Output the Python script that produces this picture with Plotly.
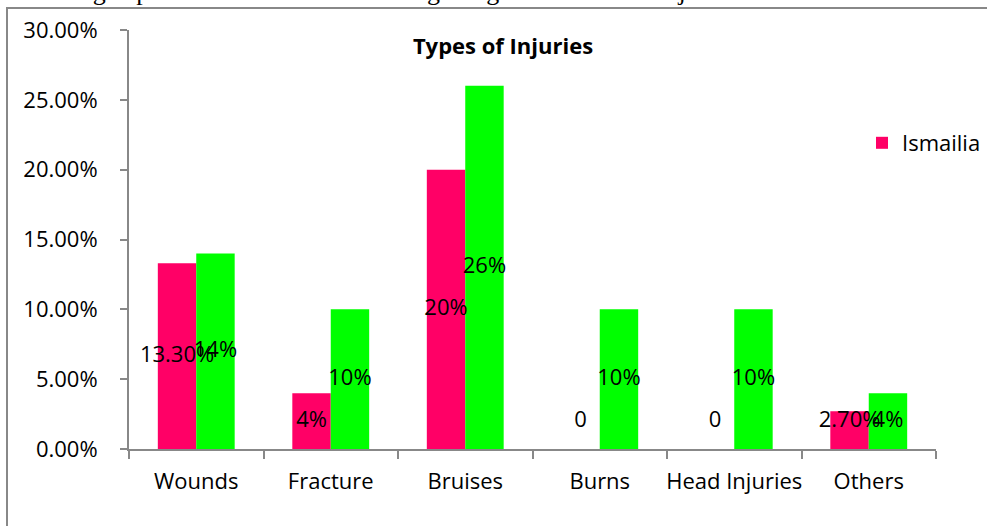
import plotly.graph_objects as go

# ---- data ----
categories = ["Wounds", "Fracture", "Bruises", "Burns", "Head Injuries", "Others"]
ismailia = [0.133, 0.04, 0.20, 0.0, 0.0, 0.027]
other_series = [0.14, 0.10, 0.26, 0.10, 0.10, 0.04]
ismailia_labels = ["13.30%", "4%", "20%", "0", "0", "2.70%"]
other_labels = ["14%", "10%", "26%", "10%", "10%", "4%"]
y_ticks = [0, 0.05, 0.10, 0.15, 0.20, 0.25, 0.30]

PINK = "#FF0066"
GREEN = "#00FF00"
GRAY = "#888888"
FONT = "Open Sans"

W, H = 987, 526
L, R, T, B = 129, 936, 30, 449  # plot area in pixels


def px_x(p):
    return (p - L) / (R - L)


def px_y(p):
    return (B - p) / (B - T)


n = len(categories)
idx = list(range(n))
bw = 1 / 3.5  # Excel gap width 150%

fig = go.Figure()
fig.add_trace(go.Bar(x=idx, y=ismailia, name="Ismailia", marker_color=PINK,
                     width=bw, offset=-bw, marker_line_width=0))
fig.add_trace(go.Bar(x=idx, y=other_series, name="Series 2", marker_color=GREEN,
                     width=bw, offset=0, marker_line_width=0, showlegend=False))

# data labels, centred in bars (raised a little above the axis for small bars)
lab_min = 0.02
fig.add_trace(go.Scatter(x=[i - bw / 2 for i in idx], y=[max(v / 2, lab_min) for v in ismailia],
                         mode="text", text=ismailia_labels, showlegend=False,
                         textfont=dict(family=FONT, size=22, color="black"), hoverinfo="skip"))
fig.add_trace(go.Scatter(x=[i + bw / 2 for i in idx], y=[max(v / 2, lab_min) for v in other_series],
                         mode="text", text=other_labels, showlegend=False,
                         textfont=dict(family=FONT, size=22, color="black"), hoverinfo="skip"))

fig.update_layout(
    width=W, height=H,
    margin=dict(l=L, r=W - R, t=T, b=H - B, autoexpand=False),
    paper_bgcolor="white", plot_bgcolor="white",
    barmode="overlay",
    font=dict(family=FONT, size=22, color="black"),
    title=dict(text="<b>Types of Injuries</b>", font=dict(family=FONT, size=22, color="black"),
               x=px_x(503), xref="paper", xanchor="center",
               y=1 - 46 / H, yref="container", yanchor="middle"),
    showlegend=True,
    legend=dict(x=px_x(862), y=px_y(143), xanchor="left", yanchor="middle",
                font=dict(family=FONT, size=22, color="black"), bgcolor="rgba(0,0,0,0)",
                itemwidth=30),
    xaxis=dict(range=[-0.5, n - 0.5], tickvals=idx, ticktext=categories, ticks="",
               showline=True, linecolor=GRAY, linewidth=2, showgrid=False, zeroline=False,
               ticklabelstandoff=12,
               minor=dict(tickvals=[i - 0.5 for i in range(n + 1)], ticks="outside",
                          ticklen=8, tickcolor=GRAY, tickwidth=2, showgrid=False)),
    yaxis=dict(range=[0, 0.30], tickvals=y_ticks, tickformat=".2%", ticks="outside",
               ticklen=7, tickcolor=GRAY, tickwidth=2, showline=True, linecolor=GRAY,
               linewidth=2, showgrid=False, zeroline=False, ticklabelstandoff=18),
    shapes=[dict(type="rect", xref="paper", yref="paper",
                 x0=px_x(7), x1=px_x(W + 20), y0=px_y(H + 20), y1=px_y(8),
                 line=dict(color=GRAY, width=2), fillcolor="rgba(0,0,0,0)", layer="below")],
    annotations=[dict(text="small grasp and 10% of them are also getting burn with hot objects.",
                      xref="paper", yref="paper", x=px_x(735), y=px_y(8),
                      xanchor="right", yanchor="bottom", showarrow=False,
                      font=dict(family="Liberation Serif", size=26, color="black"))],
)

fig.write_html("out.html", config={"displayModeBar": False},
               post_script="document.body.style.margin='0';")
